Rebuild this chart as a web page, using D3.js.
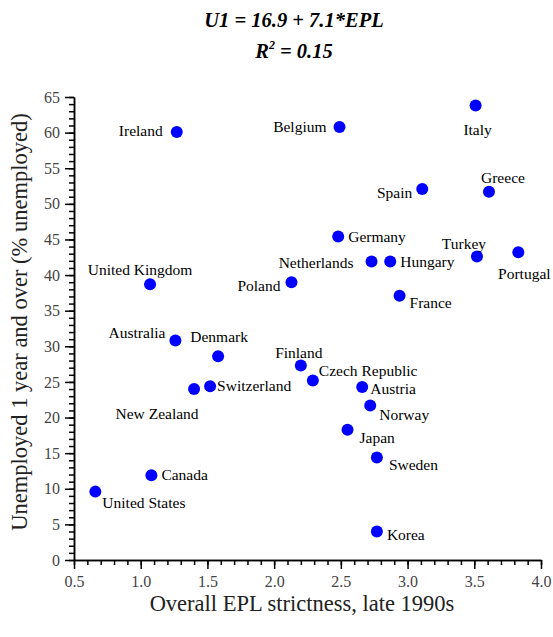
<!DOCTYPE html>
<html lang="en">
<head>
<meta charset="UTF-8">
<title>Long-term unemployment vs EPL strictness</title>
<script src="https://d3js.org/d3.v7.min.js"></script>
<style>
    body { margin: 0; background: #fff; }
    .axis path, .axis line { stroke: #000; stroke-width: 1.5; }
</style>
</head>
<body>
<div id="chart"></div>
<script>
// data
const countries = ["United States", "Canada", "Australia", "Denmark", "New Zealand", "Switzerland",
    "Ireland", "United Kingdom", "Belgium", "Italy", "Spain", "Greece", "Germany", "Netherlands",
    "Hungary", "Turkey", "Portugal", "Poland", "France", "Finland", "Czech Republic", "Austria",
    "Norway", "Japan", "Sweden", "Korea"];
const eplValues = [0.66, 1.08, 1.26, 1.58, 1.40, 1.52,
    1.27, 1.07, 2.49, 3.51, 3.11, 3.61, 2.48, 2.73,
    2.87, 3.52, 3.83, 2.13, 2.94, 2.20, 2.29, 2.66,
    2.72, 2.55, 2.77, 2.77];
const unempValues = [9.6, 11.9, 30.8, 28.6, 24.0, 24.4,
    60.1, 38.7, 60.8, 63.8, 52.1, 51.7, 45.4, 41.9,
    41.9, 42.6, 43.2, 39.0, 37.1, 27.3, 25.2, 24.3,
    21.7, 18.3, 14.4, 4.0];
const xTickLabels = ["0.5", "1.0", "1.5", "2.0", "2.5", "3.0", "3.5", "4.0"];
const yTickLabels = ["0", "5", "10", "15", "20", "25", "30", "35", "40", "45", "50", "55", "60", "65"];

// where each country name sits next to its dot: [dx, dy, anchor]
const labelPos = {
    "United States": [7, 16, "start"], "Canada": [10, 5, "start"], "Australia": [-10, -3, "end"],
    "Denmark": [1, -14, "middle"], "New Zealand": [-37, 30, "middle"], "Switzerland": [7, 5, "start"],
    "Ireland": [-14, 4, "end"], "United Kingdom": [-10, -9, "middle"], "Belgium": [-13, 5, "end"],
    "Italy": [2, 29, "middle"], "Spain": [-10, 9, "end"], "Greece": [14, -9, "middle"],
    "Germany": [10, 5, "start"], "Netherlands": [-18, 6, "end"], "Hungary": [10, 5, "start"],
    "Turkey": [-13, -8, "middle"], "Portugal": [6, 27, "middle"], "Poland": [-11, 9, "end"],
    "France": [10, 12, "start"], "Finland": [-2, -8, "middle"], "Czech Republic": [6, -4, "start"],
    "Austria": [8, 7, "start"], "Norway": [9, 15, "start"], "Japan": [12, 13, "start"],
    "Sweden": [12, 13, "start"], "Korea": [10, 8, "start"]
};

const serif = "'Liberation Serif', 'Times New Roman', 'DejaVu Serif', serif";
const W = 553, H = 637;
const margin = {top: 97, right: 12, bottom: 77, left: 74};
const width = W - margin.left - margin.right;
const height = H - margin.top - margin.bottom;

const svg = d3.select("#chart").append("svg")
    .attr("width", W)
    .attr("height", H)
    .style("display", "block");

const g = svg.append("g")
    .attr("transform", `translate(${margin.left},${margin.top})`);

const x = d3.scaleLinear().domain([0.5, 4.0]).range([0, width]);
const y = d3.scaleLinear().domain([0, 65]).range([height, 0]);

// minor ticks first, then major ticks with labels
g.append("g").attr("class", "axis")
    .attr("transform", `translate(0,${height})`)
    .call(d3.axisBottom(x).tickValues(d3.range(5, 41).map(d => d / 10)).tickSize(5).tickSizeOuter(0).tickFormat(""));
g.append("g").attr("class", "axis")
    .attr("transform", `translate(0,${height})`)
    .call(d3.axisBottom(x).tickValues(xTickLabels.map(Number)).tickSize(9).tickSizeOuter(0)
        .tickPadding(7).tickFormat((d, i) => xTickLabels[i]));

g.append("g").attr("class", "axis")
    .call(d3.axisLeft(y).tickValues(d3.range(0, 66)).tickSize(5).tickSizeOuter(0).tickFormat(""));
g.append("g").attr("class", "axis")
    .call(d3.axisLeft(y).tickValues(yTickLabels.map(Number)).tickSize(9).tickSizeOuter(0)
        .tickPadding(5).tickFormat((d, i) => yTickLabels[i]));

g.selectAll(".axis text")
    .attr("font-family", serif)
    .attr("font-size", 16)
    .attr("fill", "#444");

// points
const pts = countries.map((c, i) => ({name: c, epl: eplValues[i], u: unempValues[i]}));

g.selectAll(".dot")
    .data(pts)
    .enter().append("circle")
    .attr("class", "dot")
    .attr("cx", d => x(d.epl))
    .attr("cy", d => y(d.u))
    .attr("r", 6)
    .attr("fill", "#0000ff");

g.selectAll(".lbl")
    .data(pts)
    .enter().append("text")
    .attr("class", "lbl")
    .attr("x", d => x(d.epl) + labelPos[d.name][0])
    .attr("y", d => y(d.u) + labelPos[d.name][1])
    .attr("text-anchor", d => labelPos[d.name][2])
    .attr("font-family", serif)
    .attr("font-size", 15.5)
    .attr("fill", "#000")
    .text(d => d.name);

// axis titles
svg.append("text")
    .attr("x", 302)
    .attr("y", 611)
    .attr("text-anchor", "middle")
    .attr("font-family", serif)
    .attr("font-size", 22.5)
    .attr("fill", "#222")
    .text("Overall EPL strictness, late 1990s");

svg.append("text")
    .attr("transform", "translate(27,322) rotate(-90)")
    .attr("text-anchor", "middle")
    .attr("font-family", serif)
    .attr("font-size", 22.5)
    .attr("fill", "#222")
    .text("Unemployed 1 year and over (% unemployed)");

// regression title
const title = svg.append("g")
    .attr("font-family", serif)
    .attr("font-weight", "bold")
    .attr("font-style", "italic")
    .attr("font-size", 20.5);
title.append("text")
    .attr("x", 294).attr("y", 27)
    .attr("text-anchor", "middle")
    .text("U1 = 16.9 + 7.1*EPL");
const r2 = title.append("text")
    .attr("x", 294).attr("y", 58)
    .attr("text-anchor", "middle");
r2.append("tspan").text("R");
r2.append("tspan").attr("dy", -9).attr("font-size", 12).text("2");
r2.append("tspan").attr("dy", 9).text(" = 0.15");
</script>
</body>
</html>
